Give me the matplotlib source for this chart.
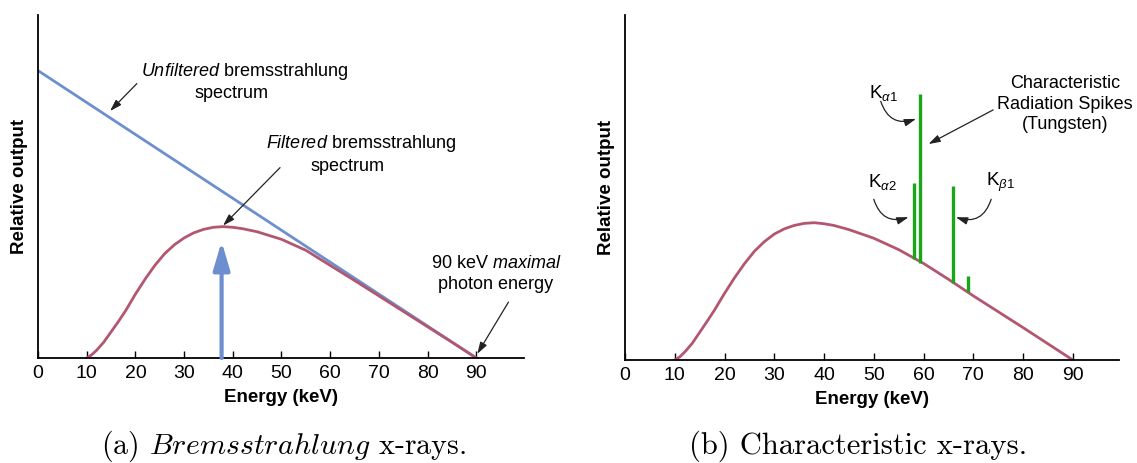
import numpy as np
import matplotlib
matplotlib.use('Agg')
import matplotlib.pyplot as plt

plt.rcParams['font.family'] = ['Liberation Sans', 'DejaVu Sans']
plt.rcParams['mathtext.fontset'] = 'custom'
plt.rcParams['mathtext.rm'] = 'Liberation Sans'
plt.rcParams['mathtext.it'] = 'Liberation Sans:italic'
plt.rcParams['mathtext.bf'] = 'Liberation Sans:bold'

# --- data ---
energy_ticks = [0, 10, 20, 30, 40, 50, 60, 70, 80, 90]

unfiltered_x = [0, 90]
unfiltered_y = [83.8, 0]

filtered_x = [10, 11, 12, 13.5, 15, 16.5, 18, 20, 22, 24, 26, 28, 30, 32, 34,
              36, 38, 40, 42, 45, 50, 55, 60, 65, 70, 75, 80, 85, 90]
# panel (a) curve
filtered_a = [0, 0.9, 2.2, 4.6, 7.6, 10.6, 13.8, 18.6, 23.0, 27.0, 30.4, 33.0,
              35.0, 36.5, 37.5, 38.1, 38.3, 38.1, 37.7, 36.8, 34.6, 31.4, 27.0,
              22.6, 18.1, 13.6, 9.1, 4.6, 0]
# panel (b) curve
filtered_b = [0, 0.9, 2.3, 4.8, 8.0, 11.2, 14.5, 19.3, 23.8, 27.9, 31.5, 34.3,
              36.5, 38.0, 39.0, 39.6, 39.8, 39.5, 39.0, 37.8, 35.3, 32.0, 28.0,
              23.4, 18.6, 14.0, 9.4, 4.7, 0]

# characteristic tungsten spikes
spike_names = [r'K$_{\alpha2}$', r'K$_{\alpha1}$', r'K$_{\beta1}$', 'Kb2']
spike_x = [58.0, 59.3, 66.0, 69.0]
spike_base = [29.4, 28.2, 22.4, 19.6]
spike_top = [51.2, 77.1, 50.5, 24.3]

avg_energy = 37.7
avg_arrow_top = 34.0

BLUE = '#6d8fd0'
RED = '#b3566f'
GREEN = '#1aa51a'

fig = plt.figure(figsize=(11.37, 4.63), dpi=100)
ax1 = fig.add_axes([0.0334, 0.2268, 0.4275, 0.7408])
ax2 = fig.add_axes([0.5497, 0.2225, 0.4345, 0.745])


def style_axis(ax, xmax):
    ax.set_xlim(0, xmax)
    ax.set_ylim(0, 100)
    ax.spines['top'].set_visible(False)
    ax.spines['right'].set_visible(False)
    ax.spines['left'].set_linewidth(1.3)
    ax.spines['bottom'].set_linewidth(1.3)
    ax.set_xticks(energy_ticks)
    ax.set_yticks([])
    ax.tick_params(axis='x', direction='in', length=5, width=1.0, labelsize=14, pad=5)
    ax.set_xlabel('Energy (keV)', fontsize=13.5, fontweight='bold', labelpad=5)
    ax.set_ylabel('Relative output', fontsize=13.5, fontweight='bold', labelpad=7)


arrow_kw = dict(arrowstyle='-|>,head_length=0.7,head_width=0.22', color='#222222',
                lw=0.9, mutation_scale=10, shrinkA=0, shrinkB=0)

# (a) bremsstrahlung
style_axis(ax1, 99.8)
ax1.plot(unfiltered_x, unfiltered_y, color=BLUE, lw=2.0, solid_capstyle='butt')
ax1.plot(filtered_x, filtered_a, color=RED, lw=2.0)
ax1.annotate('', xy=(avg_energy, avg_arrow_top), xytext=(avg_energy, 0),
             arrowprops=dict(arrowstyle='-|>,head_length=1.7,head_width=0.5',
                             mutation_scale=10, lw=3.0, color=BLUE,
                             shrinkA=0, shrinkB=0))

ax1.text(42.5, 83.5, r'$\it{Unfiltered}$ bremsstrahlung', fontsize=13,
         ha='center', va='center')
ax1.text(39.8, 77.2, 'spectrum', fontsize=13, ha='center', va='center')
ax1.annotate('', xy=(14.8, 72.0), xytext=(20.3, 80.0), arrowprops=arrow_kw)

ax1.text(66.3, 62.5, r'$\it{Filtered}$ bremsstrahlung', fontsize=13,
         ha='center', va='center')
ax1.text(63.5, 55.8, 'spectrum', fontsize=13, ha='center', va='center')
ax1.annotate('', xy=(38.0, 38.6), xytext=(49.7, 55.5), arrowprops=arrow_kw)

ax1.text(94.0, 27.5, r'90 keV $\it{maximal}$', fontsize=13, ha='center', va='center',
         clip_on=False)
ax1.text(94.0, 21.3, 'photon energy', fontsize=13, ha='center', va='center',
         clip_on=False)
ax1.annotate('', xy=(90.2, 1.2), xytext=(96.6, 16.3), arrowprops=arrow_kw,
             annotation_clip=False)

# (b) characteristic
style_axis(ax2, 99.3)
ax2.plot(filtered_x, filtered_b, color=RED, lw=2.0)
ax2.vlines(spike_x, spike_base, spike_top, color=GREEN, lw=2.4)

ax2.text(52.0, 77.5, spike_names[1], fontsize=13.5, ha='center', va='center')
ax2.annotate('', xy=(58.5, 69.9), xytext=(51.4, 75.0),
             arrowprops=dict(arrow_kw, connectionstyle='arc3,rad=0.5'))
ax2.text(51.7, 51.5, spike_names[0], fontsize=13.5, ha='center', va='center')
ax2.annotate('', xy=(57.0, 41.4), xytext=(50.0, 46.6),
             arrowprops=dict(arrow_kw, connectionstyle='arc3,rad=0.5'))
ax2.text(75.5, 51.5, spike_names[2], fontsize=13.5, ha='center', va='center')
ax2.annotate('', xy=(66.5, 41.4), xytext=(73.6, 46.6),
             arrowprops=dict(arrow_kw, connectionstyle='arc3,rad=-0.5'))

ax2.text(88.4, 74.2, 'Characteristic\nRadiation Spikes\n(Tungsten)', fontsize=13,
         ha='center', va='center', linespacing=1.3, clip_on=False)
ax2.annotate('', xy=(61.0, 62.6), xytext=(74.0, 72.5), arrowprops=arrow_kw)

# captions
fig.text(284 / 1137, 1 - 446 / 463, r'(a) $\mathit{Bremsstrahlung}$ x-rays.',
         fontsize=21.5, ha='center', va='center', family='cmr10', math_fontfamily='cm')
fig.text(858 / 1137, 1 - 446 / 463, '(b) Characteristic x-rays.',
         fontsize=22, ha='center', va='center', family='cmr10')

fig.savefig('out.png', dpi=100)
